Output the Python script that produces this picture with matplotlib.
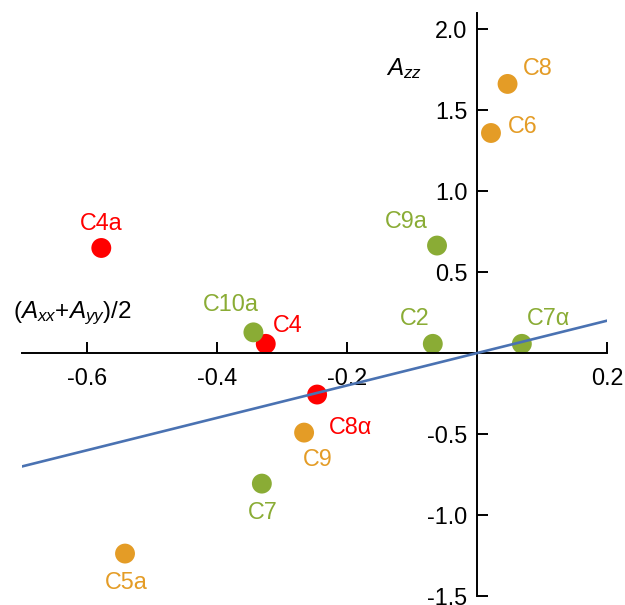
import matplotlib
matplotlib.use('Agg')
import matplotlib.pyplot as plt

plt.rcParams['font.family'] = ['Liberation Sans', 'DejaVu Sans']
plt.rcParams['mathtext.fontset'] = 'custom'
plt.rcParams['mathtext.rm'] = 'Liberation Sans'
plt.rcParams['mathtext.it'] = 'Liberation Sans:italic'

# data: x = (Axx+Ayy)/2, y = Azz
names = ['C4a', 'C4', 'C8\u03b1',
         'C10a', 'C2', 'C7\u03b1', 'C9a', 'C7',
         'C8', 'C6', 'C9', 'C5a']
xs = [-0.578, -0.325, -0.246,
      -0.344, -0.068, 0.069, -0.0615, -0.331,
      0.047, 0.0215, -0.266, -0.5415]
ys = [0.649, 0.057, -0.256,
      0.128, 0.057, 0.057, 0.664, -0.806,
      1.662, 1.359, -0.491, -1.238]
groups = ['red', 'red', 'red',
          'green', 'green', 'green', 'green', 'green',
          'orange', 'orange', 'orange', 'orange']
fit_x = [-0.7, 0.2]
fit_y = [-0.7, 0.2]

x_ticks = [-0.6, -0.4, -0.2, 0.2]
y_ticks = [-1.5, -1.0, -0.5, 0.5, 1.0, 1.5, 2.0]

colors = {'red': '#ff0000', 'green': '#8aac35', 'orange': '#e49c26'}
# label offsets (pixels) from point centre
offsets = {'C4a': (0, 24), 'C4': (22, 18), 'C8\u03b1': (33, -33),
           'C10a': (-23, 28), 'C2': (-18, 25), 'C7\u03b1': (27, 25),
           'C9a': (-31, 24), 'C7': (1, -29),
           'C8': (30, 15), 'C6': (32, 7), 'C9': (14, -27), 'C5a': (1, -29)}

fig = plt.figure(figsize=(6.25, 6.05), dpi=100)
ax = fig.add_axes([22 / 625, 1 - 596 / 605, 585 / 625, 583 / 605])

for n, x, y, g in zip(names, xs, ys, groups):
    ax.scatter(x, y, s=205, color=colors[g], edgecolors='none', zorder=2)
    dx, dy = offsets[n]
    ax.annotate(n, (x, y), xytext=(dx * 0.72, dy * 0.72),
                textcoords='offset points', ha='center', va='center',
                fontsize=16.8, color=colors[g])

ax.plot(fit_x, fit_y, color='#4a72b2', lw=1.9, zorder=3)

ax.set_xlim(-0.7, 0.2)
ax.set_ylim(-1.5, 2.1)
ax.spines['left'].set_position(('data', 0))
ax.spines['bottom'].set_position(('data', 0))
ax.spines['right'].set_visible(False)
ax.spines['top'].set_visible(False)
for s in ['left', 'bottom']:
    ax.spines[s].set_linewidth(1.4)
ax.set_xticks(x_ticks)
ax.set_xticklabels([f'{t:.1f}' for t in x_ticks])
ax.set_yticks(y_ticks)
ax.set_yticklabels([f'{t:.1f}' for t in y_ticks])
ax.tick_params(axis='x', direction='in', length=8, width=1.4, pad=10, labelsize=16.8)
ax.tick_params(axis='y', direction='in', length=8, width=1.4, pad=7, labelsize=16.8)

ax.text(-0.623, 0.244, r'($A_{xx}$+$A_{yy}$)/2', fontsize=17.5, ha='center', va='center')
ax.text(-0.112, 1.756, r'$A_{zz}$', fontsize=17.5, ha='center', va='center')

fig.savefig('out.png', dpi=100)
